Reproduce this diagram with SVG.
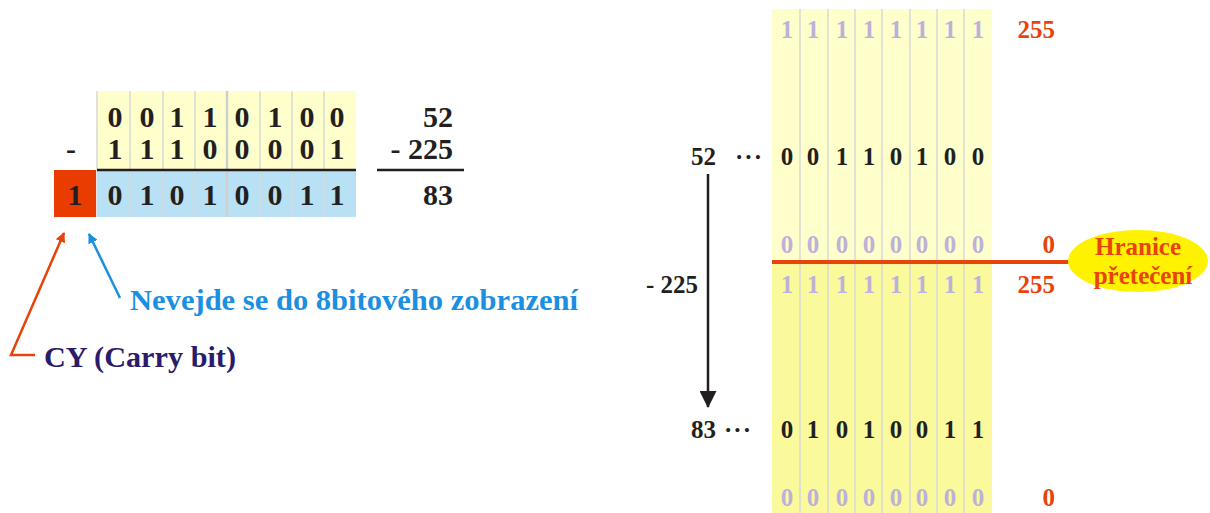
<svg xmlns="http://www.w3.org/2000/svg" width="1210" height="513" viewBox="0 0 1210 513">
  <style>
    text { font-family: "Liberation Serif", "Times New Roman", serif; font-weight: bold; }
    .dig30 { font-size: 30px; fill: #231F20; text-anchor: middle; }
    .dig25 { font-size: 25px; fill: #231F20; text-anchor: middle; }
    .ghost { font-size: 25px; fill: #BDB1D9; text-anchor: middle; }
    .num30 { font-size: 30px; fill: #231F20; text-anchor: end; }
    .num25 { font-size: 25px; fill: #231F20; text-anchor: end; }
    .red25 { font-size: 25px; fill: #E8430A; text-anchor: end; }
    .sep { stroke: #D9D9D9; stroke-width: 1.5; }
  </style>
  <defs>
    <marker id="headRed" markerWidth="10" markerHeight="10" refX="9" refY="5" orient="auto" markerUnits="userSpaceOnUse" viewBox="0 0 10 10">
      <path d="M0,0 L10,5 L0,10 Z" fill="#E8430A"/>
    </marker>
    <marker id="headBlue" markerWidth="10" markerHeight="10" refX="9" refY="5" orient="auto" markerUnits="userSpaceOnUse" viewBox="0 0 10 10">
      <path d="M0,0 L10,5 L0,10 Z" fill="#1B8FE0"/>
    </marker>
    <marker id="headBlack" markerWidth="17" markerHeight="17" refX="16" refY="8.5" orient="auto" markerUnits="userSpaceOnUse" viewBox="0 0 17 17">
      <path d="M0,0 L17,8.5 L0,17 Z" fill="#231F20"/>
    </marker>
  </defs>

  <!-- Left: 8-bit subtraction worked on paper -->
  <g id="subtraction">
    <rect x="97" y="91" width="259" height="79" fill="#FFFFCC"/>
    <rect x="97" y="170" width="259" height="47" fill="#B9E1F5"/>
    <rect x="54" y="170" width="42" height="47" fill="#E83C00"/>
    <g class="sep">
      <line x1="97" y1="91" x2="97" y2="217"/>
      <line x1="130" y1="91" x2="130" y2="217"/>
      <line x1="163" y1="91" x2="163" y2="217"/>
      <line x1="195" y1="91" x2="195" y2="217"/>
      <line x1="227" y1="91" x2="227" y2="217" style="stroke-width:2.5;stroke:#CFCFCF"/>
      <line x1="260" y1="91" x2="260" y2="217"/>
      <line x1="292" y1="91" x2="292" y2="217"/>
      <line x1="324" y1="91" x2="324" y2="217"/>
    </g>
    <line x1="97" y1="170" x2="356" y2="170" stroke="#231F20" stroke-width="2.5"/>
    <text class="dig30" x="115 147 177 210 242 275 307 337" y="127">00110100</text>
    <text class="dig30" x="115 147 177 210 242 275 307 337" y="159">11100001</text>
    <text class="dig30" x="115 147 177 210 242 275 307 337" y="205">01010011</text>
    <text class="dig30" x="71" y="159">-</text>
    <text class="dig30" x="75" y="205">1</text>
    <text class="num30" x="453" y="127">52</text>
    <text class="num30" x="453" y="159">- 225</text>
    <line x1="377" y1="170" x2="464" y2="170" stroke="#231F20" stroke-width="2.5"/>
    <text class="num30" x="453" y="205">83</text>
  </g>

  <!-- Left: callouts for the carry -->
  <g id="callouts">
    <polyline points="35,355 11,355 64,233" fill="none" stroke="#E8430A" stroke-width="2.5" marker-end="url(#headRed)"/>
    <line x1="120" y1="298" x2="89" y2="234" stroke="#1B8FE0" stroke-width="2.5" marker-end="url(#headBlue)"/>
  </g>
  <g id="label-overflow">
    <text x="130" y="310" font-size="30" fill="#1B8FE0" textLength="448" lengthAdjust="spacingAndGlyphs">Nevejde se do 8bitového zobrazení</text>
  </g>
  <g id="label-carry">
    <text x="44" y="367" font-size="30" fill="#2B1B6B" textLength="192" lengthAdjust="spacingAndGlyphs">CY (Carry bit)</text>
  </g>

  <!-- Right: circular number line of an 8-bit register -->
  <g id="register">
    <rect x="772" y="9" width="220" height="253" fill="#FFFFCC"/>
    <rect x="772" y="262" width="220" height="251" fill="#FAFA9C"/>
    <g class="sep">
      <line x1="800" y1="9" x2="800" y2="513"/>
      <line x1="828" y1="9" x2="828" y2="513"/>
      <line x1="855" y1="9" x2="855" y2="513"/>
      <line x1="882" y1="9" x2="882" y2="513"/>
      <line x1="910" y1="9" x2="910" y2="513"/>
      <line x1="937" y1="9" x2="937" y2="513"/>
      <line x1="964" y1="9" x2="964" y2="513"/>
    </g>
    <text class="ghost" x="787 813 842 869 896 922 950 978" y="38">11111111</text>
    <text class="dig25" x="787 813 842 869 896 922 950 978" y="165">00110100</text>
    <text class="ghost" x="787 813 842 869 896 922 950 978" y="253">00000000</text>
    <text class="ghost" x="787 813 842 869 896 922 950 978" y="293">11111111</text>
    <text class="dig25" x="787 813 842 869 896 922 950 978" y="438">01010011</text>
    <text class="ghost" x="787 813 842 869 896 922 950 978" y="506">00000000</text>
    <text class="red25" x="1055" y="38">255</text>
    <text class="red25" x="1055" y="253">0</text>
    <text class="red25" x="1055" y="293">255</text>
    <text class="red25" x="1055" y="506">0</text>
  </g>

  <g id="boundary">
    <line x1="772" y1="262" x2="1070" y2="262" stroke="#E8430A" stroke-width="4"/>
    <ellipse cx="1138" cy="261" rx="70" ry="31" fill="#FFF200"/>
    <text x="1138" y="255" font-size="25" fill="#E8430A" text-anchor="middle">Hranice</text>
    <text x="1143" y="284" font-size="25" fill="#E8430A" text-anchor="middle">přetečení</text>
  </g>

  <g id="walk">
    <text class="num25" x="716" y="165">52</text>
    <text x="735" y="165" font-size="25" fill="#231F20" letter-spacing="1">···</text>
    <text class="num25" x="698" y="293">- 225</text>
    <text class="num25" x="716" y="438">83</text>
    <text x="724" y="438" font-size="25" fill="#231F20" letter-spacing="1">···</text>
  </g>

  <g id="connectors">
    <line x1="708" y1="174" x2="708" y2="407" stroke="#231F20" stroke-width="2.5" marker-end="url(#headBlack)"/>
  </g>
</svg>
